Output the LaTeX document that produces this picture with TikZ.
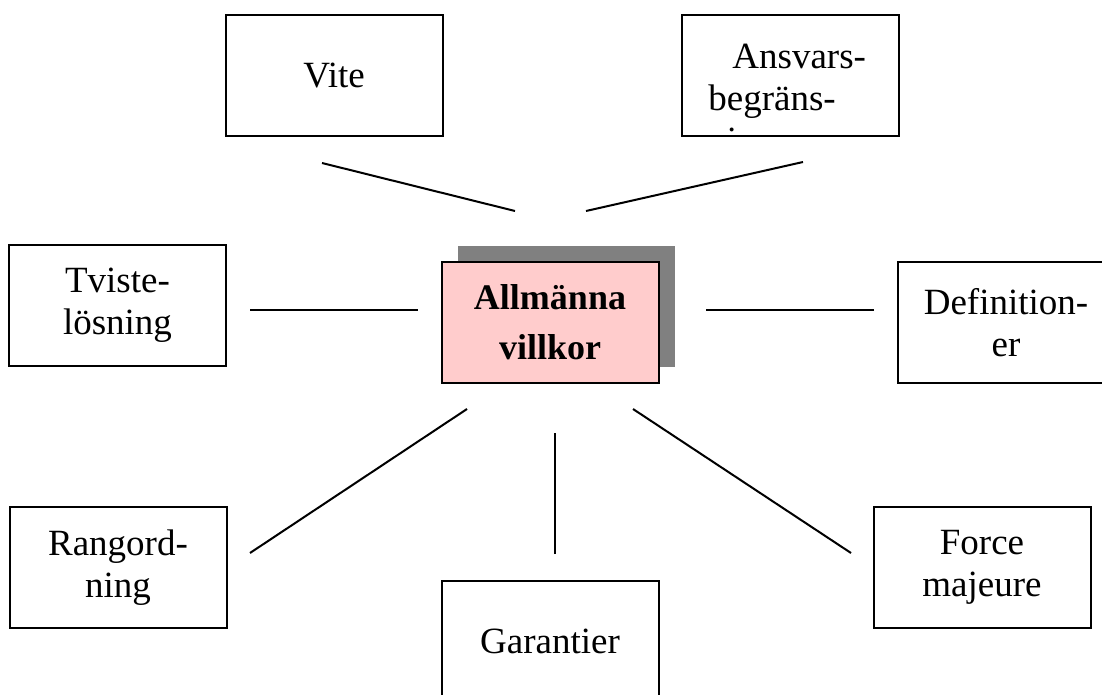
\documentclass[tikz,border=0pt]{standalone}
\usepackage{fontspec}
\setmainfont{Liberation Serif}
\usetikzlibrary{shadows,calc}
\definecolor{rosa}{RGB}{255,204,204}
\tikzset{
	ruta/.style={draw, line width=1pt, minimum width=108.5pt, minimum height=60.5pt,
		inner sep=0pt, align=center, font=\fontsize{18.5}{21}\selectfont},
	linje/.style={line width=1pt}
}

\begin{document}
\begin{tikzpicture}[x=0.5pt, y=-0.5pt]
	\clip (0,0) rectangle (1102,695);

	\node (mitt)[ruta, fill=rosa, font=\fontsize{18}{25}\selectfont\bfseries,
		drop shadow={shadow xshift=8pt, shadow yshift=8pt, fill=gray, opacity=1}]
		at (550,322.5) {Allmänna\\villkor};

	\node (vite)[ruta] at (334,75.5) {Vite};
	\node (ansvar)[ruta] at (790,75.5) {};
	\begin{scope}
		\clip ($(ansvar.south west)+(2pt,2pt)$) rectangle ($(ansvar.north east)-(2pt,2pt)$);
		\node (ansvartext)[anchor=west, align=left, inner sep=0pt,
			font=\fontsize{18.5}{21}\selectfont] at (708,102)
			{\hspace*{12pt}Ansvars-\\begräns-\\ning};
	\end{scope}
	\node (tvist)[ruta] at (117.5,305.5) {Tviste-\\lösning};
	\node (def)[ruta] at (1006,322.5) {Definition-\\er};
	\node (rang)[ruta] at (118,567.5) {Rangord-\\ning};
	\node (gar)[ruta] at (550,641.5) {Garantier};
	\node (force)[ruta] at (982,567.5) {Force\\majeure};

	% fria linjeändar
	\coordinate (v1) at (322,163);
	\coordinate (v2) at (515,211);
	\coordinate (a1) at (803,162);
	\coordinate (a2) at (586,211);
	\coordinate (t1) at (250,310);
	\coordinate (t2) at (418,310);
	\coordinate (d1) at (874,310);
	\coordinate (d2) at (706,310);
	\coordinate (r1) at (250,553);
	\coordinate (r2) at (467,409);
	\coordinate (g1) at (555,554);
	\coordinate (g2) at (555,433);
	\coordinate (f1) at (851,553);
	\coordinate (f2) at (633,409);

	\draw [linje](v1)--(v2);
	\draw [linje](a1)--(a2);
	\draw [linje](t1)--(t2);
	\draw [linje](d1)--(d2);
	\draw [linje](r1)--(r2);
	\draw [linje](g1)--(g2);
	\draw [linje](f1)--(f2);
\end{tikzpicture}
\end{document}
